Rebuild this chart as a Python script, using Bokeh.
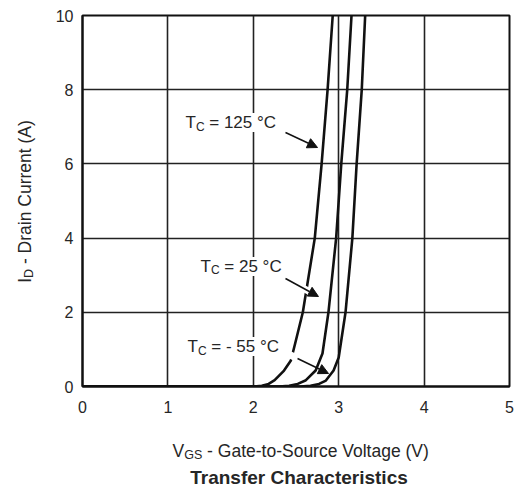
import math
from bokeh.plotting import figure
from bokeh.layouts import row, column
from bokeh.models import Label, Arrow, NormalHead, Range1d, FixedTicker
from bokeh.embed import file_html
from bokeh.resources import INLINE

# ---------------- data ----------------
x_ticks = [0, 1, 2, 3, 4, 5]
y_ticks = [0, 2, 4, 6, 8, 10]

vgs_125 = [0.0, 2.00, 2.10, 2.18, 2.25, 2.36, 2.44, 2.49, 2.58, 2.72, 2.80, 2.87, 2.93]
id_125 = [0.0, 0.00, 0.02, 0.07, 0.17, 0.43, 0.70, 1.16, 2.00, 4.00, 6.00, 8.00, 10.0]

vgs_25 = [0.0, 2.30, 2.42, 2.52, 2.61, 2.73, 2.81, 2.88, 2.97, 3.03, 3.10, 3.15]
id_25 = [0.0, 0.00, 0.02, 0.07, 0.16, 0.43, 0.89, 2.00, 4.00, 6.00, 8.00, 10.0]

vgs_m55 = [0.0, 2.55, 2.67, 2.77, 2.85, 2.94, 3.00, 3.08, 3.16, 3.21, 3.27, 3.31]
id_m55 = [0.0, 0.00, 0.02, 0.07, 0.16, 0.43, 0.78, 2.00, 4.00, 6.00, 8.00, 10.0]

series_labels = ["= 125 °C", "= 25 °C", "= - 55 °C"]
x_title = ["V", "GS", "- Gate-to-Source Voltage (V)"]
y_title = ["I", "D", "- Drain Current (A)"]
chart_title = "Transfer Characteristics"

TEXT = "#262626"
FONT = "Liberation Sans"

# approximate Arial advance widths (per 1000 em) for placing subscripts
W = {' ': 278, '-': 333, '=': 584, '°': 400, '(': 333, ')': 333, 'A': 667, 'C': 722,
     'D': 722, 'G': 778, 'I': 278, 'S': 667, 'T': 611, 'V': 667, 'i': 222, 'l': 222,
     'r': 333, 't': 278, 'c': 500}


def tw(s, size):
    return sum(W.get(ch, 556) for ch in s) * size / 1000.0


LEFT_W = 40
MAIN_W = 516 - LEFT_W
MAIN_H = 426
BOT_H = 490 - MAIN_H
PX_PER_V = 427 / 5.0
BASE_FIX = 6  # rendered alphabetic baseline sits ~6px low; compensate

# ---------------- main plot ----------------
p = figure(width=MAIN_W, height=MAIN_H, output_backend="svg", toolbar_location=None,
           x_range=Range1d(0, 5), y_range=Range1d(0, 10),
           min_border_left=82 - LEFT_W, min_border_right=7, min_border_top=15,
           min_border_bottom=MAIN_H - 386)
p.background_fill_color = "white"
p.border_fill_color = "white"
p.outline_line_color = "#111111"
p.outline_line_width = 2

p.xaxis.ticker = FixedTicker(ticks=x_ticks)
p.yaxis.ticker = FixedTicker(ticks=y_ticks)
for ax in (p.xaxis, p.yaxis):
    ax.major_tick_line_color = None
    ax.minor_tick_line_color = None
    ax.major_tick_out = 0
    ax.major_tick_in = 0
    ax.axis_line_color = "#111111"
    ax.axis_line_width = 2
    ax.major_label_text_font = FONT
    ax.major_label_text_font_size = "16px"
    ax.major_label_text_color = TEXT
p.xaxis.major_label_standoff = 14
p.yaxis.major_label_standoff = 9

p.xgrid.ticker = FixedTicker(ticks=x_ticks)
p.ygrid.ticker = FixedTicker(ticks=y_ticks)
for g in (p.xgrid, p.ygrid):
    g.grid_line_color = "#222222"
    g.grid_line_width = 1.6
    g.grid_line_alpha = 1.0

for vx, iy in ((vgs_125, id_125), (vgs_25, id_25), (vgs_m55, id_m55)):
    p.line(vx, iy, line_color="#111111", line_width=2.6, line_join="round")

# arrows (start -> end, data coords) with a white halo that breaks crossed curves
arrows = [
    (2.377, 6.846, 2.752, 6.442, 0.0, 0.55),
    (2.377, 2.911, 2.763, 2.426, -0.05, 0.72),
    (2.518, 0.755, 2.881, 0.350, -0.30, 0.55),
]
for xs, ys, xe, ye, f0, f1 in arrows:
    p.segment(x0=[xs + (xe - xs) * f0], y0=[ys + (ye - ys) * f0],
              x1=[xs + (xe - xs) * f1], y1=[ys + (ye - ys) * f1],
              line_color="white", line_width=7)
for xs, ys, xe, ye, f0, f1 in arrows:
    p.add_layout(Arrow(x_start=xs, y_start=ys, x_end=xe, y_end=ye, line_color="#111111",
                       line_width=1.5,
                       end=NormalHead(size=10, fill_color="#111111", line_color="#111111",
                                      line_width=1)))


def lab(fig, x, y, text, size, dx=0.0, dy=0.0, angle=0.0, bold=False, bg=None, align="left"):
    fig.add_layout(Label(x=x, y=y, text=text, x_offset=dx, y_offset=dy, angle=angle,
                         text_font=FONT, text_font_size=f"{size}px", text_color=TEXT,
                         text_align=align, text_baseline="alphabetic",
                         text_font_style="bold" if bold else "normal",
                         background_fill_color=bg))


label_pos = [(1.206, 6.954), (1.382, 3.073), (1.230, 0.916)]
for (lx, ly), txt in zip(label_pos, series_labels):
    wT = tw("T", 17)
    wC = tw("C", 12)
    lab(p, lx, ly, txt, 17, dx=wT + wC + tw(" ", 17), dy=BASE_FIX, bg="white")
    lab(p, lx, ly, "T", 17, dy=BASE_FIX, bg="white")
    lab(p, lx, ly, "C", 12, dx=wT, dy=BASE_FIX - 4, bg="white")


def aux_fig(width, height, xr, yr, **borders):
    f = figure(width=width, height=height, output_backend="svg", toolbar_location=None,
               x_range=xr, y_range=yr, x_axis_type=None, y_axis_type=None, **borders)
    f.outline_line_color = None
    f.background_fill_color = "white"
    f.border_fill_color = "white"
    f.grid.visible = False
    return f


# ---------------- bottom strip: x-axis title + chart title ----------------
# x in volts (frame aligned with main plot), y in page pixels (downward)
b = aux_fig(MAIN_W, BOT_H, Range1d(0, 5), Range1d(490, MAIN_H),
            min_border_left=82 - LEFT_W, min_border_right=7, min_border_top=0,
            min_border_bottom=0)
fx = 17.5
fs = 12.5
x0v = (172 - 82) / PX_PER_V
xb = 456 - BASE_FIX
lab(b, x0v, xb, x_title[0], fx)
lab(b, x0v, xb, x_title[1], fs, dx=tw(x_title[0], fx), dy=-4)
lab(b, x0v, xb, x_title[2], fx, dx=tw(x_title[0], fx) + tw(x_title[1], fs) + tw(" ", fx))
lab(b, (298.5 - 82) / PX_PER_V, 483 - BASE_FIX, chart_title, 19, bold=True, align="center")

# ---------------- left strip: rotated y-axis title (page pixel coords) ----------------
l = aux_fig(LEFT_W, 490, Range1d(0, LEFT_W), Range1d(490, 0), min_border=0)
fy = 17.5
fys = 12.5
wtot = tw(y_title[0], fy) + tw(y_title[1], fys) + tw(" ", fy) + tw(y_title[2], fy)
ystart = 201 + wtot / 2
ybx = 29.0 - BASE_FIX + 1
lab(l, ybx, ystart, y_title[0], fy, angle=math.pi / 2)
lab(l, ybx + 4, ystart - tw(y_title[0], fy), y_title[1], fys, angle=math.pi / 2)
lab(l, ybx, ystart - tw(y_title[0], fy) - tw(y_title[1], fys) - tw(" ", fy), y_title[2], fy,
    angle=math.pi / 2)

layout = row(l, column(p, b))
open("out.html", "w").write(file_html(layout, INLINE))
